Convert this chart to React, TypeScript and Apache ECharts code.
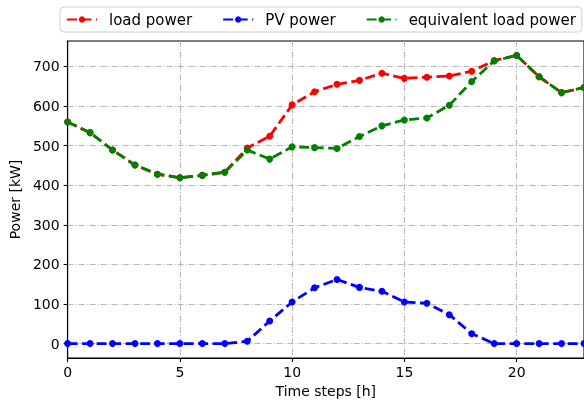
import React, { useEffect, useRef } from "react";
import * as echarts from "echarts";

const hours = [0, 1, 2, 3, 4, 5, 6, 7, 8, 9, 10, 11, 12, 13, 14, 15, 16, 17, 18, 19, 20, 21, 22, 23];
const loadPower = [560, 533, 489, 451, 428, 419, 425, 433, 494, 524, 603, 636, 655, 665, 683, 670, 673, 676, 688, 715, 728, 674, 634, 647];
const pvPower = [0, 0, 0, 0, 0, 0, 0, 0, 6, 57, 105, 141, 162, 142, 132, 105, 102, 73, 25, 0, 0, 0, 0, 0];
const equivLoad = [560, 533, 489, 451, 428, 419, 425, 433, 489, 466, 497, 495, 493, 523, 550, 565, 570, 602, 662, 714, 728, 674, 634, 647];
const yTicks = [0, 100, 200, 300, 400, 500, 600, 700];
const seriesNames = ["load power", "PV power", "equivalent load power"];

const FONT = "DejaVu Sans";

export default function App() {
  const ref = useRef<HTMLDivElement>(null);
  useEffect(() => {
    if (!ref.current) return;
    const chart = echarts.init(ref.current, undefined, { renderer: "svg" });
    const pts = (vals: number[]) => hours.map((h, i) => [h, vals[i]]);
    const mk = (name: string, vals: number[], color: string) => ({
      name,
      type: "line",
      data: pts(vals),
      symbol: "circle",
      symbolSize: 7,
      showSymbol: true,
      itemStyle: { color },
      lineStyle: { color, width: 2.8, type: [10, 4.5] },
      clip: false,
    });
    chart.setOption({
      animation: false,
      textStyle: { fontFamily: FONT },
      grid: {
        show: true,
        left: 66,
        top: 41,
        width: 520,
        bottom: 45,
        borderColor: "#000",
        borderWidth: 1.1,
        backgroundColor: "transparent",
      },
      legend: {
        data: seriesNames,
        left: 60,
        top: 7,
        padding: [5, 6, 5, 6],
        itemWidth: 30,
        itemHeight: 8,
        itemGap: 30,
        borderColor: "#cccccc",
        borderWidth: 1,
        borderRadius: 4,
        backgroundColor: "#fff",
        textStyle: { fontFamily: FONT, fontSize: 15, color: "#000", padding: [0, 0, 0, 7] },
      },
      xAxis: {
        type: "value",
        min: 0,
        max: 23,
        interval: 5,
        name: "Time steps [h]",
        nameLocation: "middle",
        nameGap: 26,
        nameTextStyle: { fontFamily: FONT, fontSize: 14, color: "#000" },
        axisLine: { show: true, onZero: false, lineStyle: { color: "#000", width: 1.1 } },
        axisTick: { show: true, length: 4, inside: false, lineStyle: { color: "#000", width: 1.1 } },
        axisLabel: { fontFamily: FONT, fontSize: 14, color: "#000", margin: 7, showMaxLabel: false },
        splitLine: { show: true, lineStyle: { color: "#b0b0b0", width: 0.9, type: [6, 2, 1, 2] } },
      },
      yAxis: {
        type: "value",
        min: -36.4,
        max: 764.4,
        name: "Power [kW]",
        nameLocation: "middle",
        nameGap: 43,
        nameTextStyle: { fontFamily: FONT, fontSize: 14, color: "#000" },
        axisLine: { show: true, onZero: false, lineStyle: { color: "#000", width: 1.1 } },
        axisTick: { show: true, length: 4, inside: false, customValues: yTicks, lineStyle: { color: "#000", width: 1.1 } },
        axisLabel: { fontFamily: FONT, fontSize: 14, color: "#000", margin: 8, customValues: yTicks },
        splitLine: { show: true, lineStyle: { color: "#b0b0b0", width: 0.9, type: [6, 2, 1, 2] } },
      },
      series: [
        mk(seriesNames[0], loadPower, "#ff0000"),
        mk(seriesNames[1], pvPower, "#0000ff"),
        mk(seriesNames[2], equivLoad, "#008000"),
      ],
    });
    return () => chart.dispose();
  }, []);
  return <div ref={ref} style={{ position: "fixed", left: 0, top: 0, width: 584, height: 403 }} />;
}
